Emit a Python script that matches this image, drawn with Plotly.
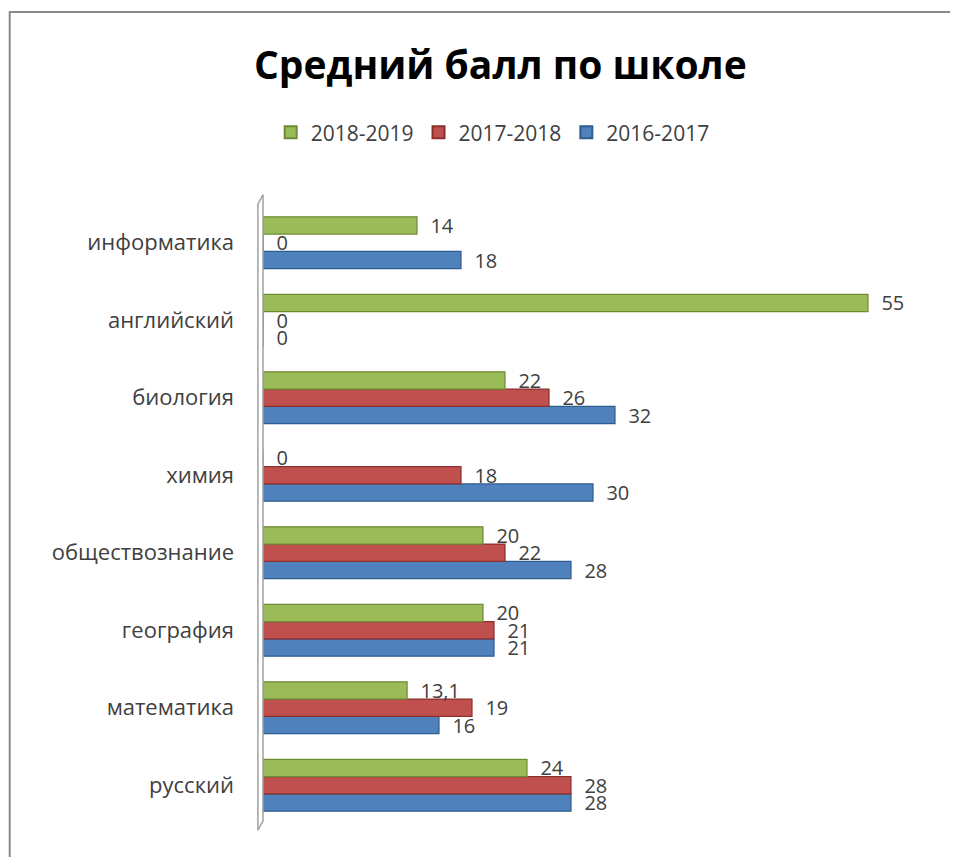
import plotly.graph_objects as go

categories = ["русский", "математика", "география", "обществознание",
              "химия", "биология", "английский", "информатика"]
series_names = ["2016-2017", "2017-2018", "2018-2019"]
v_2016_2017 = [28, 16, 21, 28, 30, 32, 0, 18]
v_2017_2018 = [28, 19, 21, 22, 18, 26, 0, 0]
v_2018_2019 = [24, 13.1, 20, 20, 0, 22, 55, 14]
colors = ["#4F81BD", "#C0504D", "#9BBB59"]
edge_colors = ["#2F5C8F", "#8C2F2C", "#6E8C35"]

FONT = "Open Sans"


def fmt(v):
    s = ("%g" % v)
    return s.replace(".", ",")


fig = go.Figure()
for name, vals, c, ec in zip(series_names, [v_2016_2017, v_2017_2018, v_2018_2019], colors, edge_colors):
    fig.add_trace(go.Bar(
        y=categories, x=vals, name=name, orientation="h",
        marker=dict(color=c, line=dict(color=ec, width=1.2)),
        text=["  " + fmt(v) for v in vals], textposition="outside",
        constraintext="none",
        textfont=dict(family=FONT, size=20, color="#404040"),
        cliponaxis=False,
    ))

fig.update_layout(
    width=958, height=857,
    paper_bgcolor="white", plot_bgcolor="white",
    margin=dict(l=255, r=65, t=196, b=41, autoexpand=False),
    barmode="group", bargap=0.33, bargroupgap=0,
    title=dict(text="<b>Средний балл по школе</b>", x=0.514, xanchor="center",
               y=0.9335, yanchor="middle",
               font=dict(family=FONT, size=39, color="black")),
    legend=dict(orientation="h", traceorder="reversed", x=0.36, xanchor="center",
                y=1.115, yanchor="middle",
                font=dict(family=FONT, size=21, color="#404040"),
                itemsizing="constant"),
    xaxis=dict(range=[0, 58], showgrid=False, zeroline=False, showline=False,
               showticklabels=False, ticks="", automargin=False),
    yaxis=dict(showgrid=False, zeroline=False, showline=False, ticks="",
               tickfont=dict(family=FONT, size=22, color="#404040"),
               ticklabelstandoff=28, automargin=False),
    showlegend=True,
    shapes=[
        # outer chart border
        dict(type="rect", xref="paper", yref="paper", x0=-0.397, x1=1.2, y0=-0.06, y1=1.3097,
             line=dict(color="#8A8A8A", width=2), fillcolor="rgba(0,0,0,0)", layer="below"),
        # 3D wall lines
        dict(type="line", xref="paper", yref="paper", x0=-0.008, x1=-0.008, y0=-0.01, y1=1.0,
             line=dict(color="#A0A0A0", width=1.5)),
        dict(type="line", xref="paper", yref="paper", x0=0.0, x1=0.0, y0=0.005, y1=1.015,
             line=dict(color="#A0A0A0", width=1.5)),
        dict(type="line", xref="paper", yref="paper", x0=-0.008, x1=0.0, y0=1.0, y1=1.015,
             line=dict(color="#A0A0A0", width=1.5)),
        dict(type="line", xref="paper", yref="paper", x0=-0.008, x1=0.0, y0=-0.01, y1=0.005,
             line=dict(color="#A0A0A0", width=1.5)),
    ],
)

fig.write_html("out.html")
